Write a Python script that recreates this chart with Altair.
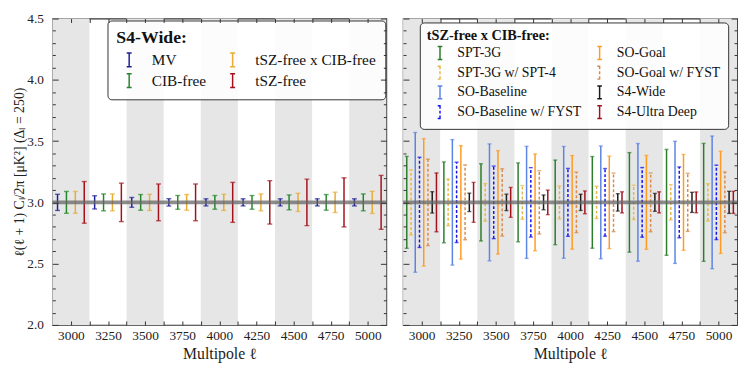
import altair as alt
import pandas as pd

# ---------------- data ----------------
ell_bins = [3000, 3250, 3500, 3750, 4000, 4250, 4500, 4750, 5000]
fiducial = 3.0
bin_width = 250
x_range = [2875, 5125]
y_range = [2.0, 4.5]

# Left panel: S4-Wide (half-widths of error bars)
left_names = ["MV", "CIB-free", "tSZ-free x CIB-free", "tSZ-free"]
mv_err = [0.066, 0.054, 0.040, 0.030, 0.029, 0.029, 0.029, 0.029, 0.029]
cib_free_err = [0.089, 0.069, 0.064, 0.056, 0.056, 0.056, 0.061, 0.064, 0.069]
tsz_x_cib_free_err = [0.089, 0.069, 0.066, 0.064, 0.066, 0.069, 0.074, 0.083, 0.090]
tsz_free_err = [0.170, 0.157, 0.150, 0.150, 0.163, 0.177, 0.190, 0.200, 0.220]
left_errs = [mv_err, cib_free_err, tsz_x_cib_free_err, tsz_free_err]
left_colors = ["#1f1f99", "#24862a", "#e8ab33", "#a3111b"]
left_dashed = [False, False, False, False]

# Right panel: tSZ-free x CIB-free
right_names = ["SPT-3G", "SPT-3G w/ SPT-4", "SO-Baseline", "SO-Baseline w/ FYST",
               "SO-Goal", "SO-Goal w/ FYST", "S4-Wide", "S4-Ultra Deep"]
spt3g_err = [0.375, 0.330, 0.315, 0.322, 0.345, 0.374, 0.406, 0.432, 0.481]
spt3g_spt4_err = [0.265, 0.190, 0.153, 0.137, 0.134, 0.132, 0.140, 0.143, 0.152]
so_base_err = [0.570, 0.512, 0.477, 0.457, 0.456, 0.460, 0.480, 0.498, 0.541]
so_base_fyst_err = [0.368, 0.328, 0.296, 0.283, 0.277, 0.276, 0.284, 0.289, 0.304]
so_goal_err = [0.520, 0.463, 0.422, 0.395, 0.382, 0.377, 0.383, 0.391, 0.417]
so_goal_fyst_err = [0.353, 0.305, 0.275, 0.258, 0.247, 0.239, 0.240, 0.237, 0.248]
s4_wide_err = [0.087, 0.075, 0.067, 0.060, 0.066, 0.071, 0.073, 0.082, 0.090]
s4_ud_err = [0.240, 0.163, 0.122, 0.100, 0.093, 0.086, 0.086, 0.085, 0.090]
right_errs = [spt3g_err, spt3g_spt4_err, so_base_err, so_base_fyst_err,
              so_goal_err, so_goal_fyst_err, s4_wide_err, s4_ud_err]
right_colors = ["#2b7d2b", "#e8b545", "#5b84e3", "#1414f0",
                "#ff9b21", "#d98a4c", "#1a1a1a", "#a3111b"]
right_dashed = [False, True, False, True, False, True, False, False]

FONT = "Liberation Serif"
GLYPH = "M0,-1L0,1M-0.36,-1L0.36,-1M-0.36,1L0.36,1"

x_major = list(range(3000, 5001, 125))
y_major = [2.0, 2.5, 3.0, 3.5, 4.0, 4.5]
y_minor = [round(2.0 + 0.1 * k, 1) for k in range(26) if k % 5 != 0]


def xaxis(orient, labels, title=None):
    kw = dict(orient=orient, values=x_major, tickSize=4, offset=-4, domain=False,
              grid=False, tickColor="#333", tickWidth=1, zindex=2, labels=labels,
              title=title)
    if labels:
        kw.update(labelFont=FONT, labelFontSize=13.5, labelPadding=4, format="d",
                  labelColor="#222", labelOverlap=False, labelFlush=False,
                  labelExpr="datum.value % 250 == 0 ? datum.label : ''")
    if title:
        kw.update(titleFont=FONT, titleFontSize=16, titleFontWeight="normal",
                  titleColor="#222", titlePadding=4)
    return alt.Axis(**kw)


def yaxis(orient, values, size, labels=False, title=None):
    kw = dict(orient=orient, values=values, tickSize=size, offset=-size, domain=False,
              grid=False, tickColor="#333", tickWidth=1, zindex=2, labels=labels,
              title=title)
    if labels:
        kw.update(labelFont=FONT, labelFontSize=13.5, labelPadding=9, format=".1f",
                  labelColor="#222", labelFlush=False)
    if title:
        kw.update(titleFont=FONT, titleFontSize=14, titleFontWeight="normal",
                  titleColor="#222", titlePadding=0)
    return alt.Axis(**kw)


def make_panel(names, errs, colors, dashed, spread, cap, show_y, legend):
    n = len(names)
    bars, caps = [], []
    for i, (nm, e) in enumerate(zip(names, errs)):
        off = -spread / 2 + spread * i / (n - 1)
        for c, v in zip(ell_bins, e):
            xx = c + off
            bars.append(dict(series=nm, x=xx, lo=fiducial - v, hi=fiducial + v))
            caps.append(dict(series=nm, x=xx, y=fiducial - v))
            caps.append(dict(series=nm, x=xx, y=fiducial + v))
    bars = pd.DataFrame(bars)
    caps = pd.DataFrame(caps)
    bands = pd.DataFrame([dict(a=c - bin_width / 2, b=c + bin_width / 2,
                               y0=y_range[0], y1=y_range[1])
                          for k, c in enumerate(ell_bins) if k % 2 == 0])
    hline = pd.DataFrame([dict(a=x_range[0], b=x_range[1], v=fiducial)])

    xs = alt.Scale(domain=x_range, nice=False, zero=False)
    ys = alt.Scale(domain=y_range, nice=False, zero=False)
    cscale = alt.Scale(domain=names, range=colors)
    dscale = alt.Scale(domain=names, range=[[3, 2] if d else [1, 0] for d in dashed])

    ytitle = "ℓ(ℓ + 1) Cₗ/2π [μK²] (Δₗ = 250)" if show_y else None

    band_layer = alt.Chart(bands).mark_rect(color="#e6e6e6").encode(
        x=alt.X("a:Q", scale=xs, axis=xaxis("bottom", True, "Multipole ℓ")),
        x2="b:Q",
        y=alt.Y("y0:Q", scale=ys, axis=yaxis("left", y_major, 6, show_y, ytitle)),
        y2="y1:Q",
    )
    bar_layer = alt.Chart(bars).mark_rule(strokeWidth=1.5).encode(
        x=alt.X("x:Q", scale=xs, axis=None),
        y=alt.Y("lo:Q", scale=ys, axis=yaxis("right", y_major, 6)),
        y2="hi:Q",
        color=alt.Color("series:N", scale=cscale, legend=legend),
        strokeDash=alt.StrokeDash("series:N", scale=dscale, legend=legend),
    )
    cap_layer = alt.Chart(caps).mark_tick(orient="horizontal", size=cap, thickness=1.4).encode(
        x=alt.X("x:Q", scale=xs, axis=None),
        y=alt.Y("y:Q", scale=ys, axis=yaxis("right", y_minor, 3)),
        color=alt.Color("series:N", scale=cscale, legend=None),
    )
    line_layer = alt.Chart(hline).mark_rule(color="#666666", opacity=0.75, strokeWidth=4).encode(
        x=alt.X("a:Q", scale=xs, axis=xaxis("top", False)),
        x2="b:Q",
        y=alt.Y("v:Q", scale=ys, axis=yaxis("left", y_minor, 3)),
    )
    return alt.layer(band_layer, bar_layer, cap_layer, line_layer).resolve_axis(
        x="independent", y="independent"
    ).properties(width=339, height=311)


left_legend = alt.Legend(
    title="S4-Wide:", orient="none", legendX=56, legendY=2, columns=2,
    symbolType=GLYPH, symbolSize=196, symbolStrokeWidth=1.5, symbolOffset=5,
    titleFont=FONT, titleFontSize=18, titleFontWeight="bold", titleColor="#111",
    titlePadding=5, labelFont=FONT, labelFontSize=15.5, labelColor="#111",
    labelOffset=15, rowPadding=1, columnPadding=13, padding=9,
    fillColor="rgba(255,255,255,0.88)", strokeColor="#333",
    cornerRadius=4,
)
right_legend = alt.Legend(
    title="tSZ-free x CIB-free:", orient="none", legendX=17, legendY=4, columns=2,
    symbolType=GLYPH, symbolSize=169, symbolStrokeWidth=1.5, symbolOffset=6,
    titleFont=FONT, titleFontSize=14.5, titleFontWeight="bold", titleColor="#111",
    titlePadding=2, labelFont=FONT, labelFontSize=14, labelColor="#111",
    labelOffset=10, rowPadding=1, columnPadding=5, padding=7,
    fillColor="rgba(255,255,255,0.88)", strokeColor="#333",
    cornerRadius=4,
)

left = make_panel(left_names, left_errs, left_colors, left_dashed, 180, 5, True, left_legend)
right = make_panel(right_names, right_errs, right_colors, right_dashed, 200, 4, False, right_legend)

chart = alt.hconcat(left, right, spacing=11).resolve_scale(
    color="independent", strokeDash="independent", x="independent", y="independent"
).resolve_legend(color="independent", strokeDash="independent").properties(
    padding={"left": 4, "top": 0, "right": 0, "bottom": 0}
).configure_view(stroke="#333", strokeWidth=1.2)

chart.save("out.html", embed_options={"renderer": "svg", "actions": False})
